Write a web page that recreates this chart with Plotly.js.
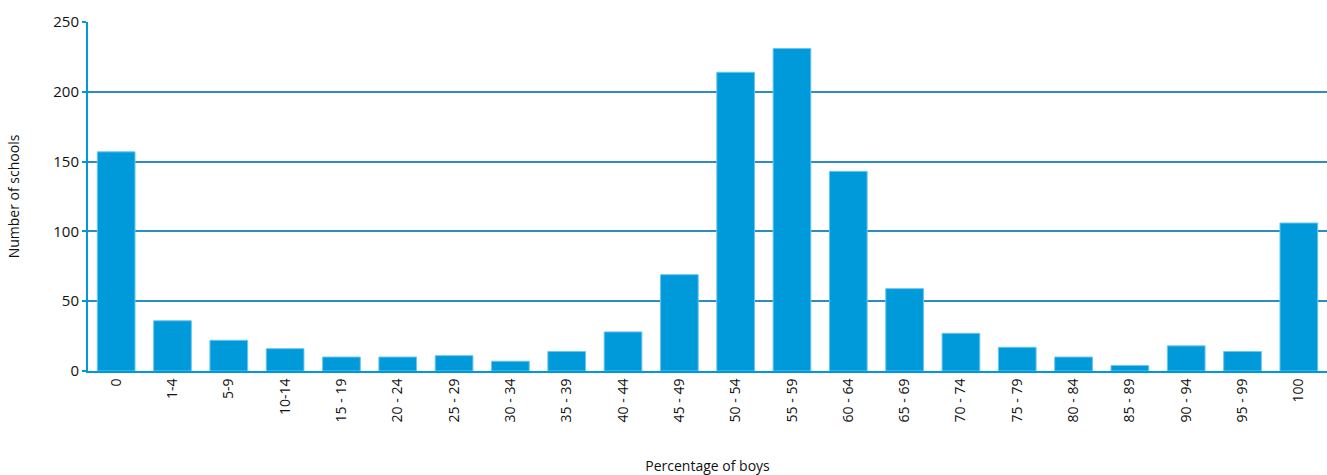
<!DOCTYPE html>
<html>
<head>
<script src="https://cdn.plot.ly/plotly-3.0.1.min.js"></script>
<style>body{margin:0}#chart{width:1327px;height:475px}</style>
</head>
<body>
<div id="chart"></div>
<script>
var categories = ['0', '1-4', '5-9', '10-14', '15 - 19', '20 - 24', '25 - 29', '30 - 34', '35 - 39', '40 - 44', '45 - 49',
  '50 - 54', '55 - 59', '60 - 64', '65 - 69', '70 - 74', '75 - 79', '80 - 84', '85 - 89', '90 - 94', '95 - 99', '100']
var schools = [157, 36, 22, 16, 10, 10, 11, 7, 14, 28, 69, 214, 231, 143, 59, 27, 17, 10, 4, 18, 14, 106]

var font = { family: 'Open Sans, sans-serif', size: 14, color: '#111' }

Plotly.newPlot('chart', [{
  x: categories,
  y: schools,
  type: 'bar',
  marker: { color: '#009ada', line: { color: '#6cc6ee', width: 1 } },
  width: 0.67
}], {
  margin: { l: 88, r: 0, t: 22, b: 104 },
  paper_bgcolor: '#fff',
  plot_bgcolor: '#fff',
  showlegend: false,
  font: font,
  xaxis: {
    title: { text: 'Percentage of boys', font: { size: 14 }, standoff: 42 },
    tickangle: -90,
    ticks: '',
    showline: true, linecolor: '#0099d8', linewidth: 2,
    tickfont: { size: 14 }
  },
  yaxis: {
    title: { text: 'Number of schools', font: { size: 14 }, standoff: 30 },
    range: [0, 250],
    dtick: 50,
    ticks: 'outside', ticklen: 4, tickcolor: '#0099d8', tickwidth: 2,
    showline: true, linecolor: '#0099d8', linewidth: 2,
    gridcolor: '#2e8cc2', gridwidth: 2,
    zeroline: false,
    tickfont: { size: 15 }
  }
}, { displayModeBar: false })
</script>
</body>
</html>
